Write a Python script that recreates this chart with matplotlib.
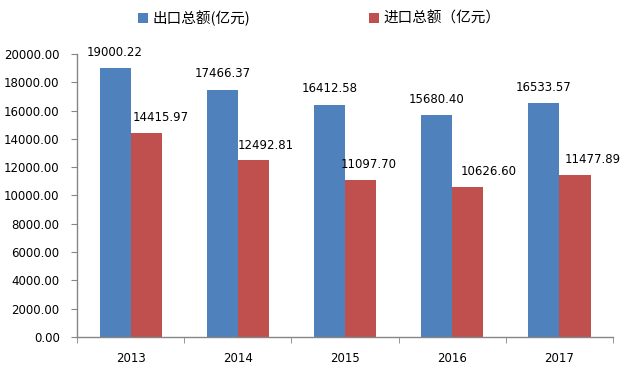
import matplotlib
matplotlib.use("Agg")
import matplotlib.pyplot as plt
import numpy as np

plt.rcParams['font.family'] = ['DejaVu Sans', 'Noto Sans CJK SC']

years = ['2013', '2014', '2015', '2016', '2017']
exports = [19000.22, 17466.37, 16412.58, 15680.40, 16533.57]
imports = [14415.97, 12492.81, 11097.70, 10626.60, 11477.89]
series_names = ['出口总额(亿元)', '进口总额（亿元）']
yticks = [0, 2000, 4000, 6000, 8000, 10000, 12000, 14000, 16000, 18000, 20000]

blue = '#4F81BD'
red = '#C0504D'
axis_col = '#868686'

# horizontal nudges (pixels) of the import value labels, as in the original chart
imp_dx = [15, 12, 8, 21, 18]

fig = plt.figure(figsize=(6.23, 3.67), dpi=100)
ax = fig.add_axes([0.1236, 0.0817, 0.8604, 0.7713])

x = np.arange(len(years))
w = 0.29
b1 = ax.bar(x - w/2, exports, w, color=blue, label=series_names[0])
b2 = ax.bar(x + w/2, imports, w, color=red, label=series_names[1])

for xi, v in zip(x, exports):
    ax.annotate(f'{v:.2f}', (xi - w/2, v), xytext=(0, 16), textcoords='offset pixels',
                ha='center', va='center', fontsize=8.5, color='#000000')
for xi, v, dx in zip(x, imports, imp_dx):
    ax.annotate(f'{v:.2f}', (xi + w/2, v), xytext=(dx, 15), textcoords='offset pixels',
                ha='center', va='center', fontsize=8.5, color='#000000', annotation_clip=False)

ax.set_xlim(-0.5, len(years) - 0.5)
ax.set_ylim(0, 20000)
ax.set_yticks(yticks)
ax.set_yticklabels([f'{t:.2f}' for t in yticks], fontsize=8.5)
ax.set_xticks(x)
ax.set_xticklabels(years, fontsize=8.5)
ax.tick_params(axis='x', length=0, pad=11)
ax.set_xticks(np.arange(-0.5, len(years)), minor=True)
ax.tick_params(axis='x', which='minor', length=4, color=axis_col, direction='out')
ax.tick_params(axis='y', length=4, color=axis_col, direction='out', pad=8.5)

for s in ['top', 'right']:
    ax.spines[s].set_visible(False)
for s in ['left', 'bottom']:
    ax.spines[s].set_color(axis_col)
    ax.spines[s].set_linewidth(1)

fig.legend(handles=[b1, b2], labels=series_names, loc='center left',
           bbox_to_anchor=(0.2, 0.951), ncol=2, frameon=False,
           handlelength=0.7, handleheight=0.7, handletextpad=0.3,
           columnspacing=8.15, prop={'family': ['Noto Sans CJK SC'], 'size': 10.5})

fig.savefig('out.png', dpi=100)
